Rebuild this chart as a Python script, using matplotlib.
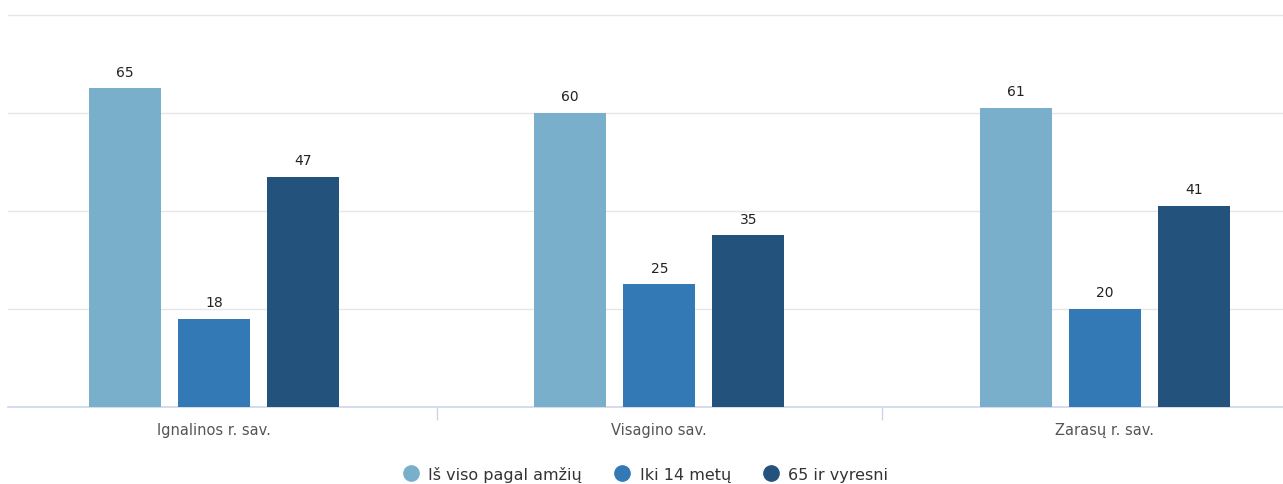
import numpy as np
import matplotlib.pyplot as plt
from matplotlib.lines import Line2D

categories = ['Ignalinos r. sav.', 'Visagino sav.', 'Zarasų r. sav.']
series_names = ['Iš viso pagal amžių', 'Iki 14 metų', '65 ir vyresni']
total = [65, 60, 61]
kids = [18, 25, 20]
seniors = [47, 35, 41]
colors = ['#7AAFCB', '#3379B5', '#23527C']

fig = plt.figure(figsize=(12.83, 4.85), dpi=100)
ax = fig.add_axes([8 / 1283, 77 / 485, 1275 / 1283, 395 / 485])

x = np.arange(len(categories))
width = 0.162
offsets = [-0.2, 0.0, 0.2]
for vals, off, col in zip([total, kids, seniors], offsets, colors):
    bars = ax.bar(x + off, vals, width, color=col, zorder=3)
    for b, v in zip(bars, vals):
        ax.text(b.get_x() + b.get_width() / 2, v + 2.0, str(v), ha='center', va='bottom',
                fontsize=10, color='#222222')

ax.set_xlim(-0.462, 2.40)
ax.set_ylim(0, 80.6)
ax.set_yticks([20, 40, 60, 80])
ax.yaxis.grid(True, color='#e6e6e6', linewidth=1)
ax.tick_params(axis='y', length=0, labelleft=False)
ax.set_xticks(x)
ax.set_xticklabels(categories, fontsize=10.5, color='#555555')
ax.tick_params(axis='x', length=0, pad=11)
ax.set_xticks([0.5, 1.5], minor=True)
ax.tick_params(axis='x', which='minor', length=9, color='#ccd6eb', width=1)
for s in ['top', 'left', 'right']:
    ax.spines[s].set_visible(False)
ax.spines['bottom'].set_color('#ccd6eb')
ax.spines['bottom'].set_linewidth(1.2)

handles = [Line2D([], [], marker='o', linestyle='', markersize=11, color=c) for c in colors]
fig.legend(handles, series_names, loc='center', bbox_to_anchor=(0.5, 0.021), ncol=3,
           frameon=False, fontsize=11.5, handletextpad=0.1, columnspacing=1.5,
           labelcolor='#333333')

fig.savefig('out.png', dpi=100)
